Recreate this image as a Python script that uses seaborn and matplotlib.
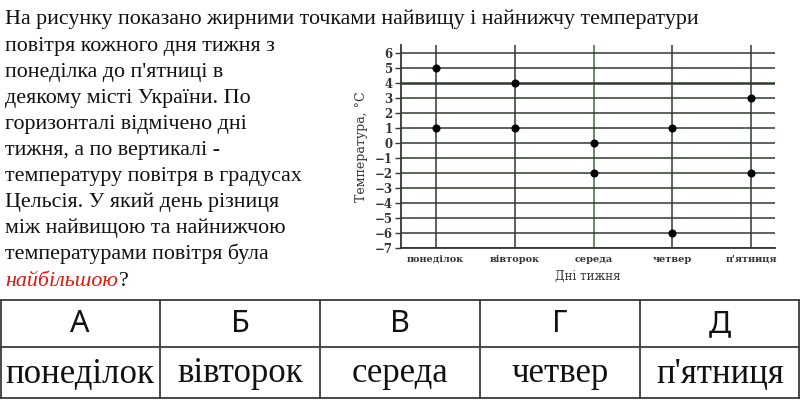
import numpy as np
import pandas as pd
import matplotlib
matplotlib.use("Agg")
import matplotlib.pyplot as plt
import seaborn as sns

# Chart data
days = ["понеділок", "вівторок", "середа", "четвер", "п'ятниця"]
high_temp = [5, 4, 0, 1, 3]
low_temp = [1, 1, -2, -6, -2]
y_ticks = list(range(-7, 7))

# Question text and answer table
question_lines = [
    "На рисунку показано жирними точками найвищу і найнижчу температури",
    "повітря кожного дня тижня з",
    "понеділка до п'ятниці в",
    "деякому місті України. По",
    "горизонталі відмічено дні",
    "тижня, а по вертикалі -",
    "температуру повітря в градусах",
    "Цельсія. У який день різниця",
    "між найвищою та найнижчою",
    "температурами повітря була",
]
answer_letters = ["А", "Б", "В", "Г", "Д"]
answer_days = ["понеділок", "вівторок", "середа", "четвер", "п'ятниця"]

df = pd.DataFrame({
    "day": days * 2,
    "temp": high_temp + low_temp,
})

sns.set_style("white")
plt.rcParams['font.family'] = ['Liberation Serif', 'DejaVu Serif']

W, H = 800, 400
fig = plt.figure(figsize=(8, 4), dpi=100)

# background axes in pixel coordinates for text and the table
bg = fig.add_axes([0, 0, 1, 1])
bg.set_xlim(0, W)
bg.set_ylim(H, 0)
bg.axis("off")

line_y = [19, 46, 72, 98, 124, 150, 176, 202, 228, 254]
for txt, y in zip(question_lines, line_y):
    bg.text(5, y, txt, fontsize=15.8, color="#111111", va="center", ha="left")
red = bg.text(5, 281, "найбільшою", fontsize=15.8, color="#e8140c",
              style="italic", va="center", ha="left")
fig.canvas.draw()
bb = red.get_window_extent(fig.canvas.get_renderer())
bg.text(bb.x1 + 1, 281, "?", fontsize=15.8, color="#111111", va="center", ha="left")

# table
tc = "#3a3a3a"
bg.plot([0, 800], [300, 300], color=tc, lw=1.3)
bg.plot([0, 800], [347, 347], color=tc, lw=1.3)
bg.plot([0, 800], [398, 398], color=tc, lw=1.3)
for xv in [0.7, 160, 320, 480, 640, 799.3]:
    bg.plot([xv, xv], [300, 398], color=tc, lw=1.3)
for i, (a, d) in enumerate(zip(answer_letters, answer_days)):
    cx = 80 + 160 * i
    bg.text(cx, 324, a, fontsize=22, family="Noto Sans", color="#111111",
            ha="center", va="center")
    bg.text(cx, 374, d, fontsize=25, color="#111111", ha="center", va="center")

# the chart
ax = fig.add_axes([401 / W, 1 - 248 / H, 374 / W, 203 / H])
sns.scatterplot(data=df, x="day", y="temp", color="black", s=34,
                edgecolor="black", linewidth=0, zorder=5, ax=ax, legend=False)
ax.set_xlim(-0.44, 4.3)
ax.set_ylim(-7, 6.52)
ax.set_yticks(y_ticks)
ax.set_yticklabels([str(v).replace("-", "\u2212") for v in y_ticks])
ax.grid(True, color="#2f3a2f", linewidth=1.1)
ax.get_xgridlines()[2].set_color("#3d6b3d")
ax.get_ygridlines()[11].set_linewidth(1.8)
ax.set_axisbelow(True)
for side in ["top", "right"]:
    ax.spines[side].set_visible(False)
for side in ["left", "bottom"]:
    ax.spines[side].set_color("#2f3a2f")
    ax.spines[side].set_linewidth(1.3)
ax.tick_params(axis="y", length=4, width=1, color="#2f3a2f", pad=2,
               labelsize=8.5, labelcolor="#333333", left=True)
ax.tick_params(axis="x", length=0, pad=5, labelsize=7, labelcolor="#333333")
for lab in ax.get_yticklabels() + ax.get_xticklabels():
    lab.set_fontweight("bold")
    lab.set_family("DejaVu Serif")
ax.set_xlabel("Дні тижня", fontsize=8.5, family="DejaVu Serif",
              color="#333333", labelpad=4)
ax.set_ylabel("Температура, °С", fontsize=9, family="DejaVu Serif",
              color="#333333", labelpad=5)

fig.savefig("out.png", dpi=100)
